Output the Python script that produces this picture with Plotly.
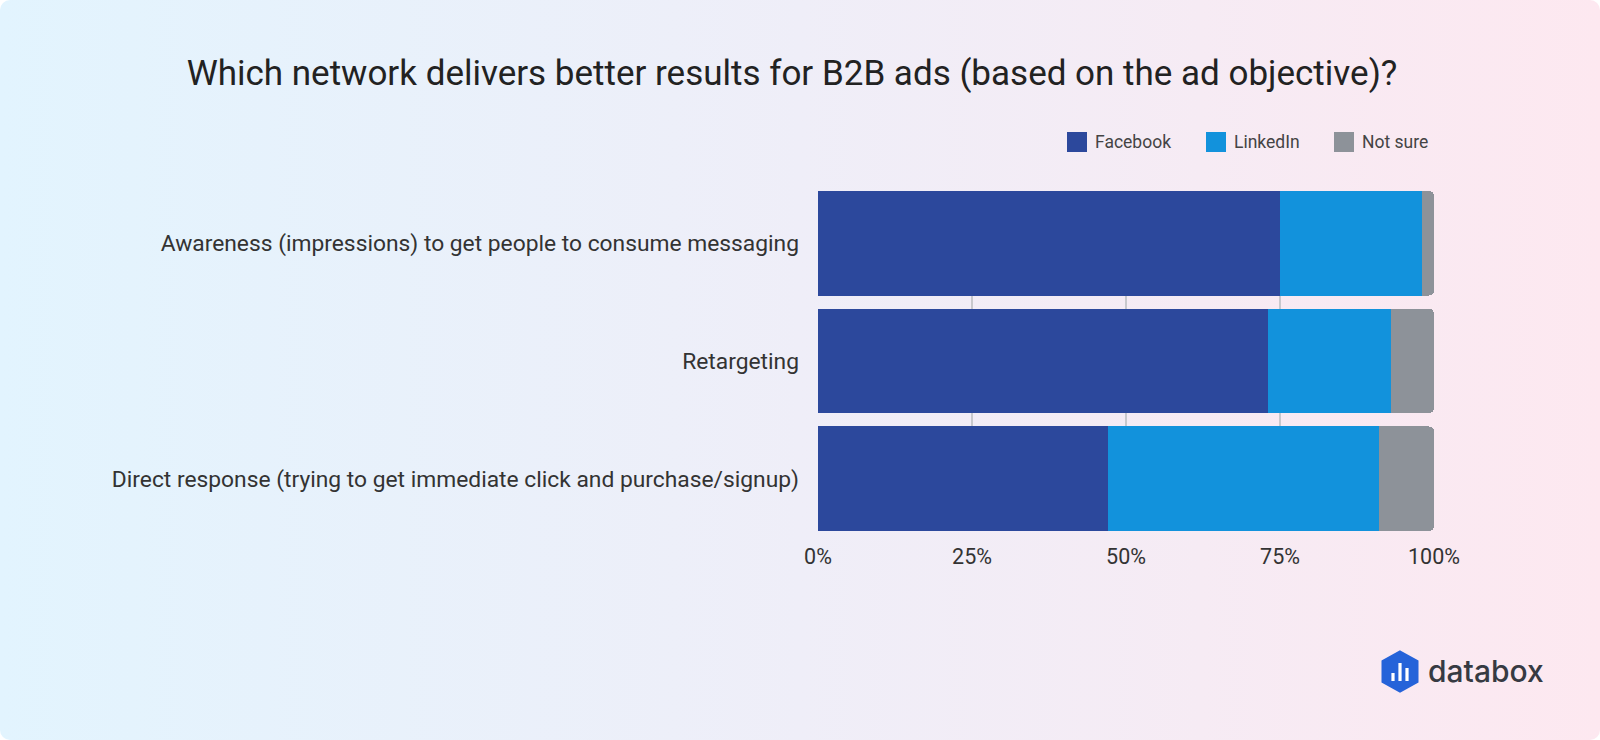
import plotly.graph_objects as go

# survey data (percent of respondents)
objectives = [
    "Awareness (impressions) to get people to consume messaging",
    "Retargeting",
    "Direct response (trying to get immediate click and purchase/signup)",
]
facebook = [75, 73, 47]
linkedin = [23, 20, 44]
not_sure = [2, 7, 9]
series_names = ["Facebook", "LinkedIn", "Not sure"]
series_colors = ["#2c489c", "#1292dc", "#8d9299"]
x_ticks = [0, 25, 50, 75, 100]
x_tick_labels = ["0%", "25%", "50%", "75%", "100%"]

W, H = 1600, 740
L, R, T, B = 818, 166, 191, 209
PW, PH = W - L - R, H - T - B


def px(x):
    return (x - L) / PW


def py(y):
    return (H - B - y) / PH


bg_svg = (
    "data:image/svg+xml;utf8,"
    "<svg xmlns='http://www.w3.org/2000/svg' width='1600' height='740'>"
    "<defs><linearGradient id='g' x1='0' y1='0' x2='1' y2='0'>"
    "<stop offset='0' stop-color='%23e2f4fe'/>"
    "<stop offset='0.5' stop-color='%23efeef8'/>"
    "<stop offset='1' stop-color='%23fde8f0'/>"
    "</linearGradient></defs>"
    "<rect width='1600' height='740' rx='10' fill='url(%23g)'/></svg>"
)

fig = go.Figure()
for name, vals, col in zip(series_names, [facebook, linkedin, not_sure], series_colors):
    fig.add_trace(go.Bar(y=objectives, x=vals, name=name, orientation="h",
                         marker=dict(color=col, line=dict(width=0)),
                         showlegend=False))

gap = 0.112
fig.update_layout(
    width=W, height=H,
    barmode="stack", bargap=gap, barcornerradius=5,
    paper_bgcolor="rgba(0,0,0,0)",
    plot_bgcolor="rgba(255,255,255,0.4)",
    font=dict(family="Roboto", color="#333333", size=22),
    margin=dict(l=L, r=R, t=T, b=B),
    title=dict(text="Which network delivers better results for B2B ads (based on the ad objective)?",
               x=0.495, xanchor="center", y=1 - 73 / H, yanchor="middle",
               font=dict(size=35, color="#222222")),
    xaxis=dict(range=[0, 100], tickvals=x_ticks, ticktext=x_tick_labels,
               showgrid=True, gridcolor="#c8c8cd", gridwidth=2, zeroline=False,
               ticks="", ticklabelstandoff=10,
               tickfont=dict(size=21.5, color="#333333"), fixedrange=True),
    yaxis=dict(range=[2.5 - gap / 2, -0.5 + gap / 2], ticks="", ticklabelstandoff=18,
               tickfont=dict(size=22.8, color="#333333"), showgrid=False),
    images=[dict(source=bg_svg, xref="paper", yref="paper", x=px(0), y=py(0),
                 sizex=W / PW, sizey=H / PH, xanchor="left", yanchor="top",
                 layer="below", sizing="stretch")],
)

# legend drawn by hand (bigger swatches than plotly's)
legend_x = [1067, 1206, 1334]
for lx, name, col in zip(legend_x, series_names, series_colors):
    fig.add_shape(type="rect", xref="paper", yref="paper",
                  x0=px(lx), x1=px(lx + 20), y0=py(152), y1=py(132),
                  fillcolor=col, line=dict(width=0))
    fig.add_annotation(text=name, xref="paper", yref="paper", x=px(lx + 26), y=py(142),
                       xanchor="left", yanchor="middle", showarrow=False,
                       font=dict(size=17.5, color="#444444"))

# databox logo
hexagon = [(1400, 652), (1417, 661.5), (1417, 681.5), (1400, 691), (1383, 681.5), (1383, 661.5)]
fig.add_shape(type="path", xref="paper", yref="paper", layer="above",
              path="M " + " L ".join(f"{px(a)},{py(b)}" for a, b in hexagon) + " Z",
              fillcolor="#2563d9", line=dict(color="#2563d9", width=3))
for bx, top in [(1393, 673), (1400, 663), (1407, 668)]:
    fig.add_shape(type="rect", xref="paper", yref="paper",
                  x0=px(bx - 1.6), x1=px(bx + 1.6), y0=py(681), y1=py(top),
                  fillcolor="white", line=dict(width=0), layer="above")
fig.add_annotation(text="databox", xref="paper", yref="paper",
                   x=px(1426), y=py(671), xanchor="left", yanchor="middle",
                   showarrow=False,
                   font=dict(family="Inter", size=30, weight=500, color="#363a42"))

fig.write_html("out.html", config={"displayModeBar": False},
               post_script="document.body.style.margin='0';")
